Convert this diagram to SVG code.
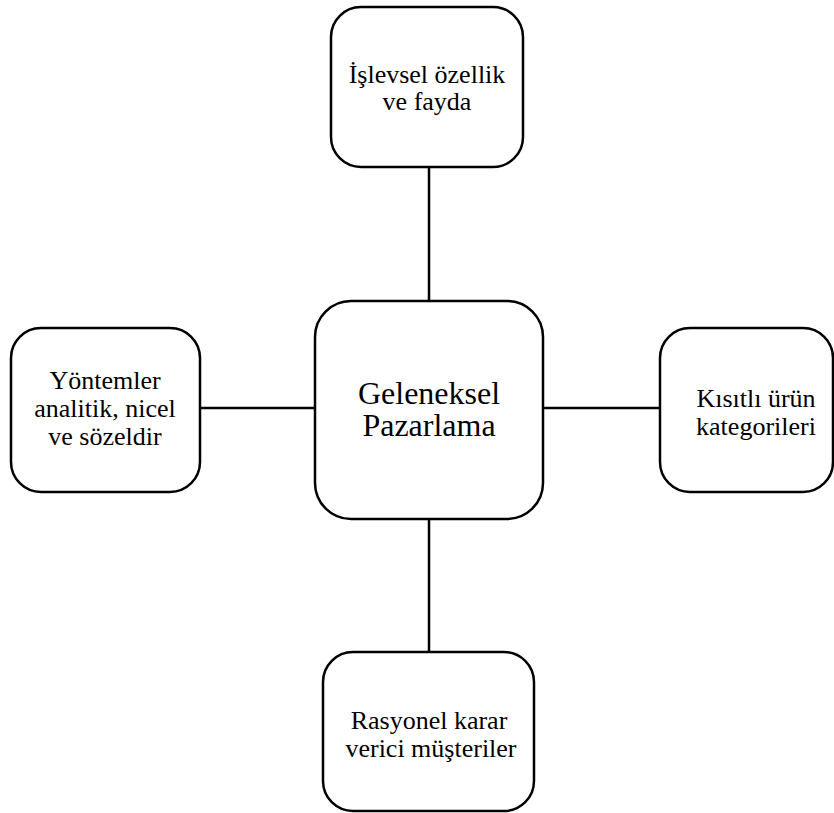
<svg xmlns="http://www.w3.org/2000/svg" width="834" height="813" viewBox="0 0 834 813">
  <style>
    .box { fill: #ffffff; stroke: #000000; stroke-width: 2.5; }
    .link { stroke: #000000; stroke-width: 2.5; fill: none; }
    .label { font-family: "Liberation Serif", "Times New Roman", serif; font-size: 26px; fill: #000000; text-anchor: middle; }
    .big { font-size: 32px; }
  </style>
  <rect width="834" height="813" fill="#ffffff"/>
  <g id="connectors">
    <line class="link" x1="429" y1="167" x2="429" y2="301"/>
    <line class="link" x1="429" y1="519" x2="429" y2="652"/>
    <line class="link" x1="200" y1="408" x2="315" y2="408"/>
    <line class="link" x1="543" y1="408" x2="660" y2="408"/>
  </g>
  <g id="node-center">
    <rect class="box" x="315" y="301" width="228" height="218" rx="36"/>
    <text class="label big" x="429" y="404">Geleneksel</text>
    <text class="label big" x="429" y="436">Pazarlama</text>
  </g>
  <g id="node-top">
    <rect class="box" x="331" y="7" width="192" height="160" rx="30"/>
    <text class="label" x="427" y="83">İşlevsel özellik</text>
    <text class="label" x="427" y="110">ve fayda</text>
  </g>
  <g id="node-left">
    <rect class="box" x="11" y="328" width="189" height="164" rx="30"/>
    <text class="label" x="105" y="389">Yöntemler</text>
    <text class="label" x="105" y="417">analitik, nicel</text>
    <text class="label" x="105" y="445">ve sözeldir</text>
  </g>
  <g id="node-right">
    <rect class="box" x="660" y="328" width="173" height="164" rx="30"/>
    <text class="label" x="756" y="407">Kısıtlı ürün</text>
    <text class="label" x="756" y="435">kategorileri</text>
  </g>
  <g id="node-bottom">
    <rect class="box" x="323" y="652" width="211" height="159" rx="30"/>
    <text class="label" x="429" y="729">Rasyonel karar</text>
    <text class="label" x="431" y="757">verici müşteriler</text>
  </g>
</svg>
